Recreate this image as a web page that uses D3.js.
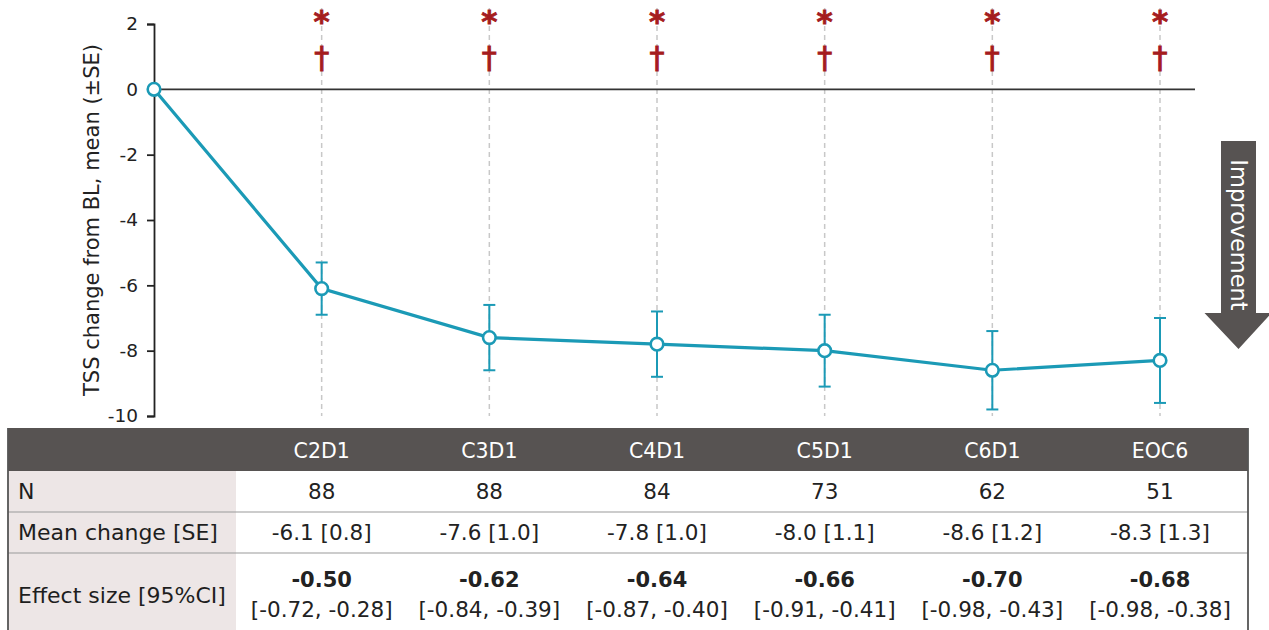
<!DOCTYPE html>
<html>
<head>
<meta charset="utf-8">
<script src="https://cdn.jsdelivr.net/npm/d3@7"></script>
<style>
  body { margin: 0; background: #fff; }
  svg text { font-family: "DejaVu Sans", sans-serif; }
</style>
</head>
<body>
<div id="main"></div>
<script>
'use strict';

var width = 1269, height = 630;

// data
var visits = ['BL', 'C2D1', 'C3D1', 'C4D1', 'C5D1', 'C6D1', 'EOC6'];
var means = [0, -6.1, -7.6, -7.8, -8.0, -8.6, -8.3];
var ses = [null, 0.8, 1.0, 1.0, 1.1, 1.2, 1.3];
var nValues = [88, 88, 84, 73, 62, 51];
var effect = [-0.50, -0.62, -0.64, -0.66, -0.70, -0.68];
var ciLow = [-0.72, -0.84, -0.87, -0.91, -0.98, -0.98];
var ciHigh = [-0.28, -0.39, -0.40, -0.41, -0.43, -0.38];
var yTicks = [2, 0, -2, -4, -6, -8, -10];
var rowLabels = ['N', 'Mean change [SE]', 'Effect size [95%CI]'];

var teal = '#1b9ab6', red = '#a51c1e', darkGray = '#575352';

var svg = d3.select('#main').append('svg')
  .attr('width', width).attr('height', height);

var x = d3.scalePoint().domain(visits).range([154, 1160]);
var y = d3.scaleLinear().domain([-10, 2]).range([416, 24]);

var post = visits.slice(1);

// dashed guides
svg.append('g').selectAll('line')
  .data(post).enter().append('line')
  .attr('x1', function(d) { return x(d); })
  .attr('x2', function(d) { return x(d); })
  .attr('y1', 8).attr('y2', y(-10))
  .attr('stroke', '#c8c8c8').attr('stroke-width', 1.5)
  .attr('stroke-dasharray', '5,4');

// zero line
svg.append('line')
  .attr('x1', x('BL')).attr('x2', 1195)
  .attr('y1', y(0)).attr('y2', y(0))
  .attr('stroke', '#333').attr('stroke-width', 1.8);

// y axis
var yAxis = d3.axisLeft(y).tickValues(yTicks).tickSize(7).tickPadding(9);
var gy = svg.append('g').attr('transform', 'translate(' + x('BL') + ',0)').call(yAxis);
gy.select('.domain').attr('stroke', '#222').attr('stroke-width', 1.8);
gy.selectAll('.tick line').attr('stroke', '#222').attr('stroke-width', 1.8);
gy.selectAll('.tick text')
  .attr('font-size', 18.5).attr('fill', '#222')
  .style('font-family', '"DejaVu Sans", sans-serif')
  .text(function(d) { return d < 0 ? '-' + Math.abs(d) : d; });

svg.append('text')
  .attr('transform', 'translate(99,' + 220 + ') rotate(-90)')
  .attr('text-anchor', 'middle')
  .attr('font-size', 21).attr('fill', '#222')
  .text('TSS change from BL, mean (\u00b1SE)');

// significance marks
svg.append('g').selectAll('text')
  .data(post).enter().append('text')
  .attr('x', function(d) { return x(d); })
  .attr('y', 32)
  .attr('text-anchor', 'middle')
  .attr('font-size', 31).attr('font-weight', 'bold')
  .attr('fill', red).attr('stroke', red).attr('stroke-width', 0.8)
  .text('*');
svg.append('g').selectAll('text')
  .data(post).enter().append('text')
  .attr('x', function(d) { return x(d); })
  .attr('y', 68)
  .attr('text-anchor', 'middle')
  .attr('font-size', 30)
  .attr('fill', red).attr('stroke', red).attr('stroke-width', 0.9)
  .text('\u2020');

// error bars
var eb = svg.append('g').attr('stroke', teal).attr('stroke-width', 2);
visits.forEach(function(v, i) {
  if (ses[i] == null) return;
  var cx = x(v), top = y(means[i] + ses[i]), bot = y(means[i] - ses[i]);
  eb.append('line').attr('x1', cx).attr('x2', cx).attr('y1', top).attr('y2', bot);
  eb.append('line').attr('x1', cx - 6).attr('x2', cx + 6).attr('y1', top).attr('y2', top);
  eb.append('line').attr('x1', cx - 6).attr('x2', cx + 6).attr('y1', bot).attr('y2', bot);
});

// mean line
var line = d3.line()
  .x(function(d, i) { return x(visits[i]); })
  .y(function(d) { return y(d); });
svg.append('path').datum(means)
  .attr('d', line)
  .attr('fill', 'none').attr('stroke', teal).attr('stroke-width', 3.2);

svg.append('g').selectAll('circle')
  .data(means).enter().append('circle')
  .attr('cx', function(d, i) { return x(visits[i]); })
  .attr('cy', function(d) { return y(d); })
  .attr('r', 6.3)
  .attr('fill', '#fff').attr('stroke', teal).attr('stroke-width', 2.6);

// improvement arrow
var ax = 1238.5;
svg.append('path')
  .attr('d', 'M' + (ax - 17.5) + ',141 L' + (ax + 17.5) + ',141 L' + (ax + 17.5) + ',313 L' + (ax + 33) + ',313 L' +
    ax + ',349 L' + (ax - 34) + ',313 L' + (ax - 17.5) + ',313 Z')
  .attr('fill', darkGray);
svg.append('text')
  .attr('transform', 'translate(' + (ax - 8) + ',235) rotate(90)')
  .attr('text-anchor', 'middle')
  .attr('font-size', 22.5).attr('fill', '#fff')
  .text('Improvement');

// table
var tL = 8, tR = 1248, labelR = 236;
var rowsY = [428, 471, 512, 553];
var table = svg.append('g');

table.append('rect').attr('x', tL).attr('y', rowsY[1]).attr('width', labelR - tL).attr('height', height - rowsY[1])
  .attr('fill', '#ede6e6');
table.append('rect').attr('x', tL).attr('y', rowsY[0]).attr('width', tR - tL).attr('height', rowsY[1] - rowsY[0])
  .attr('fill', darkGray);
[rowsY[2], rowsY[3]].forEach(function(ry) {
  table.append('line').attr('x1', tL).attr('x2', tR).attr('y1', ry).attr('y2', ry)
    .attr('stroke', '#9a9a9a').attr('stroke-width', 1.2);
});
[tL, tR].forEach(function(bx) {
  table.append('line').attr('x1', bx).attr('x2', bx).attr('y1', rowsY[0]).attr('y2', height)
    .attr('stroke', '#555').attr('stroke-width', 1.8);
});

table.selectAll('text.head')
  .data(post).enter().append('text')
  .attr('class', 'head')
  .attr('x', function(d) { return x(d); })
  .attr('y', 458)
  .attr('text-anchor', 'middle')
  .attr('font-size', 20.5).attr('fill', '#fff')
  .text(function(d) { return d; });

var labelY = [499, 540, 603];
rowLabels.forEach(function(l, i) {
  table.append('text').attr('x', 18).attr('y', labelY[i])
    .attr('font-size', 22).attr('fill', '#1e1e1e')
    .text(l);
});

function num(v, d) {
  return (v < 0 ? '-' : '') + Math.abs(v).toFixed(d);
}

post.forEach(function(v, j) {
  var i = j + 1, cx = x(v);
  table.append('text').attr('x', cx).attr('y', 499).attr('text-anchor', 'middle')
    .attr('font-size', 21.5).attr('fill', '#222').text(nValues[j]);
  table.append('text').attr('x', cx).attr('y', 540).attr('text-anchor', 'middle')
    .attr('font-size', 21.5).attr('fill', '#222')
    .text(num(means[i], 1) + ' [' + ses[i].toFixed(1) + ']');
  table.append('text').attr('x', cx).attr('y', 587).attr('text-anchor', 'middle')
    .attr('font-size', 21).attr('font-weight', 'bold').attr('fill', '#222')
    .text(num(effect[j], 2));
  table.append('text').attr('x', cx).attr('y', 617).attr('text-anchor', 'middle')
    .attr('font-size', 21.5).attr('fill', '#222')
    .text('[' + num(ciLow[j], 2) + ', ' + num(ciHigh[j], 2) + ']');
});
</script>
</body>
</html>
